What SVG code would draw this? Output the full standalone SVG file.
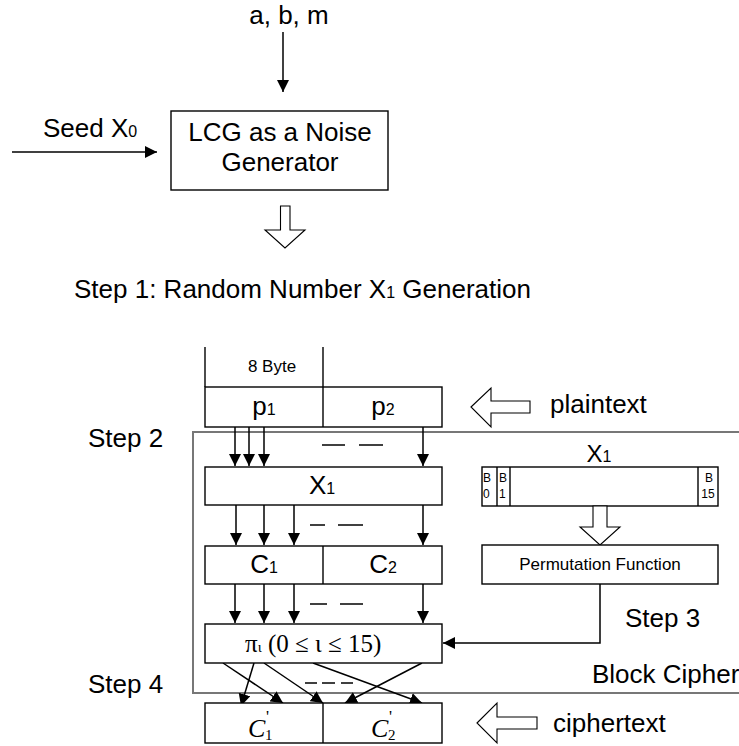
<svg xmlns="http://www.w3.org/2000/svg" width="739" height="746" viewBox="0 0 739 746">
<defs>
<marker id="ah" markerUnits="userSpaceOnUse" markerWidth="12" markerHeight="12" viewBox="0 0 12 12" refX="12" refY="6" orient="auto">
<path d="M0,0 L12,6 L0,12 z" fill="#000"/>
</marker>
</defs>
<style>
.box{fill:#fff;stroke:#000;stroke-width:1.4}
.ln{fill:none;stroke:#000;stroke-width:1.4}
.arr{fill:none;stroke:#000;stroke-width:1.5;marker-end:url(#ah)}
.hol{fill:#fff;stroke:#000;stroke-width:1.1}
.region{fill:none;stroke:#777;stroke-width:2}
.t{font-family:"Liberation Sans",Arial,sans-serif;font-size:26px;fill:#000}
.s{font-family:"Liberation Sans",Arial,sans-serif;font-size:17px;fill:#000}
.b{font-family:"Liberation Sans",Arial,sans-serif;font-size:12px;fill:#000}
.m{text-anchor:middle}
.sub{font-size:16px}
.serif{font-family:"Liberation Serif","Times New Roman",serif;fill:#000}
.dash{stroke:#000;stroke-width:1.5}
</style>

<g id="region-blockcipher">
<path class="region" d="M739,432 H193 V693 H739"/>
</g>

<g id="connectors">
<line class="arr" x1="283" y1="32" x2="283" y2="92"/>
<line class="arr" x1="12" y1="152" x2="157" y2="152"/>
<line class="arr" x1="235" y1="427" x2="235" y2="466"/>
<line class="arr" x1="249" y1="427" x2="249" y2="466"/>
<line class="arr" x1="264" y1="427" x2="264" y2="466"/>
<line class="arr" x1="423" y1="427" x2="423" y2="466"/>
<line class="arr" x1="236" y1="505" x2="236" y2="545"/>
<line class="arr" x1="264" y1="505" x2="264" y2="545"/>
<line class="arr" x1="294" y1="505" x2="294" y2="545"/>
<line class="arr" x1="423" y1="505" x2="423" y2="545"/>
<line class="arr" x1="235" y1="584" x2="235" y2="623"/>
<line class="arr" x1="264" y1="584" x2="264" y2="623"/>
<line class="arr" x1="294" y1="584" x2="294" y2="623"/>
<line class="arr" x1="423" y1="584" x2="423" y2="623"/>
<path class="arr" d="M600,584 V643 H443"/>
<line class="arr" x1="223" y1="663" x2="283" y2="703"/>
<line class="arr" x1="254" y1="663" x2="241" y2="706"/>
<line class="arr" x1="264" y1="663" x2="323" y2="703"/>
<line class="arr" x1="313" y1="663" x2="422" y2="703"/>
<line class="arr" x1="422" y1="663" x2="345" y2="703"/>
<g id="dashes">
<line class="dash" x1="322" y1="445" x2="345" y2="445"/>
<line class="dash" x1="359" y1="445" x2="383" y2="445"/>
<line class="dash" x1="310" y1="525" x2="325" y2="525"/>
<line class="dash" x1="338" y1="525" x2="363" y2="525"/>
<line class="dash" x1="310" y1="604" x2="327" y2="604"/>
<line class="dash" x1="340" y1="604" x2="363" y2="604"/>
<line class="dash" x1="305" y1="683" x2="317" y2="683"/>
<line class="dash" x1="322" y1="683" x2="335" y2="683"/>
<line class="dash" x1="341" y1="683" x2="353" y2="683"/>
</g>
</g>

<g id="label-abm"><text class="t m" x="289" y="24">a, b, m</text></g>

<g id="label-seed"><text class="t" x="43" y="137">Seed X<tspan class="sub">0</tspan></text></g>

<g id="node-lcg">
<rect class="box" x="171" y="111" width="217" height="79"/>
<text class="t m" x="280" y="141">LCG as a Noise</text>
<text class="t m" x="280" y="171">Generator</text>
</g>

<g id="hollow-down-1">
<polygon class="hol" points="280.5,206 290,206 290,230 305,230 285,248 265,230 280.5,230"/>
</g>

<g id="label-step1"><text class="t" x="74" y="298">Step 1: Random Number X<tspan class="sub">1</tspan> Generation</text></g>

<g id="node-8byte">
<line class="ln" x1="205" y1="347" x2="205" y2="387"/>
<line class="ln" x1="323" y1="347" x2="323" y2="387"/>
<text class="s m" x="272" y="372">8 Byte</text>
</g>

<g id="node-plaintext-block">
<rect class="box" x="205" y="387" width="237" height="40"/>
<line class="ln" x1="323" y1="387" x2="323" y2="427"/>
<text class="t m" x="264" y="415">p<tspan class="sub">1</tspan></text>
<text class="t m" x="383" y="415">p<tspan class="sub">2</tspan></text>
</g>

<g id="arrow-plaintext">
<polygon class="hol" points="471,407 491,388 491,401 530,401 530,413 491,413 491,427"/>
<text class="t" x="550" y="413">plaintext</text>
</g>

<g id="label-step2"><text class="t" x="88" y="447">Step 2</text></g>

<g id="node-x1">
<rect class="box" x="205" y="467" width="237" height="38"/>
<text class="t m" x="322" y="494">X<tspan class="sub">1</tspan></text>
</g>

<g id="node-bits">
<text class="t m" x="599" y="462" style="font-size:24px">X<tspan class="sub">1</tspan></text>
<rect class="box" x="482" y="467" width="236" height="39"/>
<line class="ln" x1="497" y1="467" x2="497" y2="506"/>
<line class="ln" x1="510" y1="467" x2="510" y2="506"/>
<line class="ln" x1="698" y1="467" x2="698" y2="506"/>
<text class="b" x="483" y="482">B</text>
<text class="b" x="483" y="498">0</text>
<text class="b" x="499" y="482">B</text>
<text class="b" x="499" y="498">1</text>
<text class="b m" x="709" y="482">B</text>
<text class="b m" x="708" y="498">15</text>
</g>

<g id="hollow-down-2">
<polygon class="hol" points="593,506 607,506 607,527 620,527 600,545 580,527 593,527"/>
</g>

<g id="node-c">
<rect class="box" x="205" y="546" width="237" height="38"/>
<line class="ln" x1="323" y1="546" x2="323" y2="584"/>
<text class="t m" x="264" y="573">C<tspan class="sub">1</tspan></text>
<text class="t m" x="383" y="573">C<tspan class="sub">2</tspan></text>
</g>

<g id="node-perm">
<rect class="box" x="482" y="545" width="236" height="39"/>
<text class="s m" x="600" y="570">Permutation Function</text>
</g>

<g id="label-step3"><text class="t" x="625" y="627">Step 3</text></g>

<g id="node-pi">
<rect class="box" x="205" y="624" width="237" height="39"/>
<text class="serif" x="245" y="652" style="font-size:25px">π<tspan style="font-size:15px">ι</tspan> (0 ≤ ι ≤ 15)</text>
</g>

<g id="label-blockcipher"><text class="t" x="592" y="683">Block Cipher</text></g>

<g id="label-step4"><text class="t" x="88" y="693">Step 4</text></g>

<g id="node-cprime">
<rect class="box" x="205" y="703" width="237" height="40"/>
<line class="ln" x1="323" y1="703" x2="323" y2="743"/>
<text class="serif" x="248" y="737" style="font-size:26px;font-style:italic">C</text>
<text class="serif" x="266" y="722" style="font-size:17px">'</text>
<text class="serif" x="265" y="740" style="font-size:15px">1</text>
<text class="serif" x="371" y="737" style="font-size:26px;font-style:italic">C</text>
<text class="serif" x="389" y="722" style="font-size:17px">'</text>
<text class="serif" x="388" y="740" style="font-size:15px">2</text>
</g>

<g id="arrow-ciphertext">
<polygon class="hol" points="477,723 497,703 497,717 537,717 537,729 497,729 497,743"/>
<text class="t" x="553" y="732">ciphertext</text>
</g>
</svg>
